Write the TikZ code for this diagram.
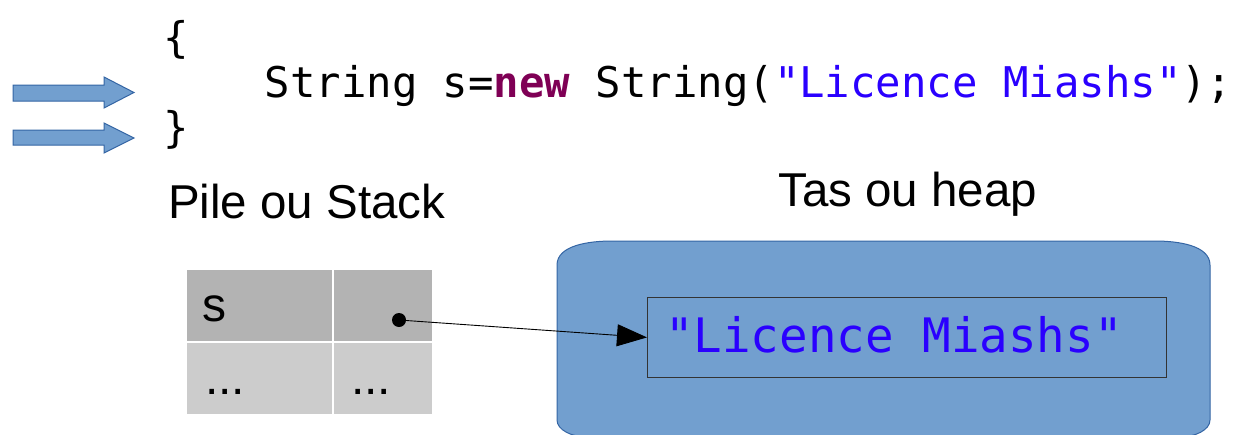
\documentclass[tikz,border=0pt]{standalone}
\usepackage{fontspec}
\setmainfont{Liberation Sans}
\setmonofont{DejaVu Sans Mono}
\usetikzlibrary{arrows.meta,shapes.arrows}
\definecolor{blockfill}{HTML}{729FCF}
\definecolor{blockline}{HTML}{3465A4}
\definecolor{kw}{HTML}{7F0055}
\definecolor{str}{HTML}{2A00FF}
\definecolor{topcell}{HTML}{B3B3B3}
\definecolor{botcell}{HTML}{CCCCCC}
\tikzset{
  code/.style={anchor=base west,inner sep=0pt,font=\fontsize{42.3}{44}\selectfont\ttfamily},
  label/.style={anchor=base west,inner sep=0pt,font=\fontsize{47.5}{50}\selectfont},
  celltext/.style={anchor=base west,inner sep=0pt,font=\fontsize{48}{50}\selectfont},
  cell/.style={draw=white,line width=1.5pt,inner sep=0pt,anchor=north west},
  blockarrow/.style={fill=blockfill,draw=blockline,line width=1pt},
}
\begin{document}
\begin{tikzpicture}[x=1pt,y=-1pt]
\useasboundingbox (0,0) rectangle (1234,434);
% block arrows
\draw[blockarrow] (13,85) -- (104,85) -- (104,77) -- (134,92.5) -- (104,108) -- (104,101) -- (13,101) -- cycle;
\draw[blockarrow] (13,130) -- (104,130) -- (104,123) -- (134,138) -- (104,153) -- (104,145) -- (13,145) -- cycle;
% code
\node[code] (l1) at (163,52) {\{};
\node[code] (l2) at (163,97) {\hspace*{101.5pt}String s=\textcolor{kw}{\bfseries new} String(\textcolor{str}{"Licence Miashs"});};
\node[code] (l3) at (163,142) {\}};
% labels
\node[label] (pile) at (168,218) {Pile ou Stack};
\node[label] (tas) at (778,206) {Tas ou heap};
% stack table
\node[cell,fill=topcell,minimum width=147pt,minimum height=73pt] (c11) at (185,268) {};
\node[cell,fill=topcell,minimum width=100pt,minimum height=73pt] (c12) at (332,268) {};
\node[cell,fill=botcell,minimum width=147pt,minimum height=73pt] (c21) at (185,341) {};
\node[cell,fill=botcell,minimum width=100pt,minimum height=73pt] (c22) at (332,341) {};
\node[celltext] (s) at (202,321) {s};
\node[celltext] (d1) at (205,394) {...};
\node[celltext] (d2) at (351,394) {...};
% heap
\draw[fill=blockfill,draw=blockline,line width=1pt]
  (557,420) -- (557,265) .. controls (557,245) and (590,241) .. (612,241)
  -- (1155,241) .. controls (1177,241) and (1210,245) .. (1210,265) -- (1210,420)
  .. controls (1210,430) and (1195,437) .. (1180,437) -- (587,437)
  .. controls (572,437) and (557,430) .. (557,420) -- cycle;
\node[draw=black!80,line width=0.8pt,minimum width=519pt,minimum height=80pt,anchor=north west,inner sep=0pt] (hbox) at (647,297) {};
\node[anchor=base west,inner sep=0pt,font=\fontsize{47.5}{50}\selectfont\ttfamily,text=str] (htext) at (665,352) {"Licence Miashs"};
% pointer
\coordinate (dot) at (399,320);
\fill (dot) circle (7);
\draw[line width=0.9pt,-{Triangle[length=30pt,width=22pt]}] (dot) -- (hbox.west);
\end{tikzpicture}
\end{document}
